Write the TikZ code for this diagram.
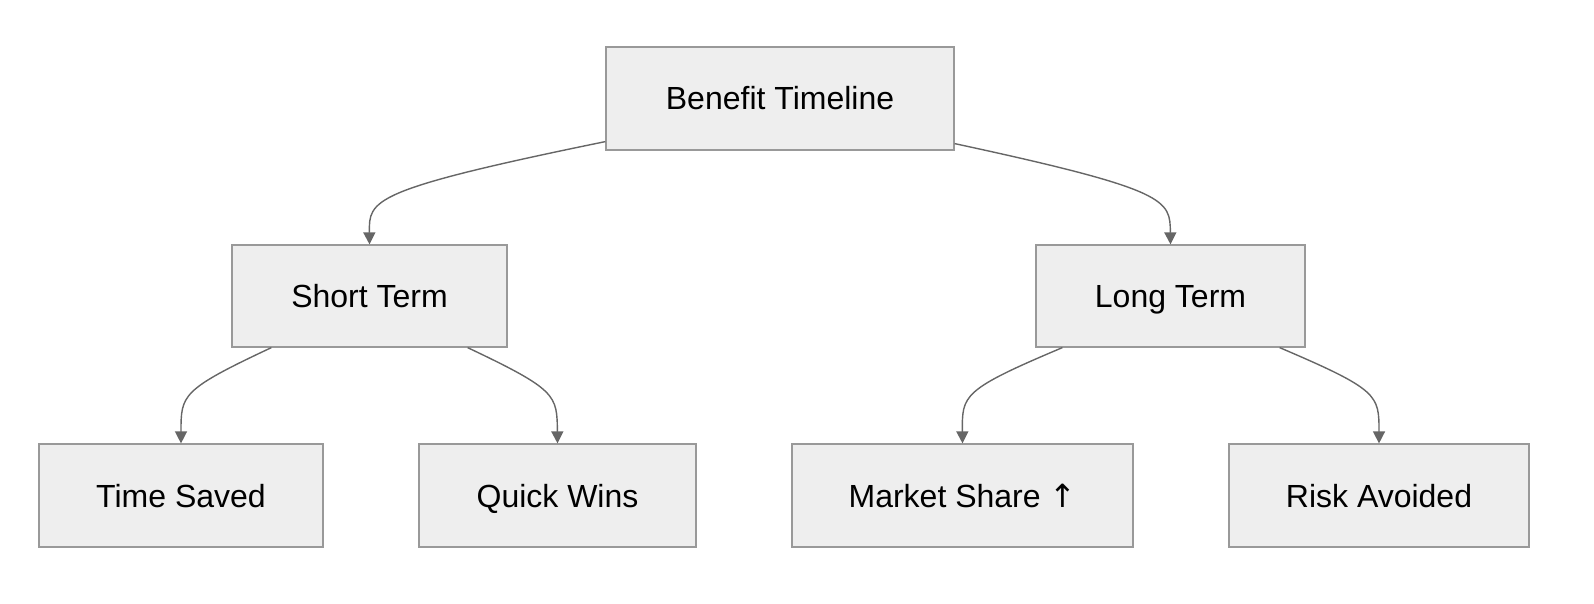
\documentclass[tikz,border=0pt]{standalone}
\usepackage{fontspec}
\setmainfont{Liberation Sans}
\newfontfamily\symfont{DejaVu Sans}
\usetikzlibrary{arrows.meta,calc}
\definecolor{boxfill}{HTML}{EEEEEE}
\definecolor{boxline}{HTML}{999999}
\definecolor{edgec}{HTML}{666666}
\begin{document}
\begin{tikzpicture}[x=0.5pt,y=-0.5pt,
  box/.style={draw=boxline,fill=boxfill,line width=0.6pt,inner sep=0pt,text height=11.5pt,text depth=0pt,font=\fontsize{16}{18}\selectfont},
  edge/.style={draw=edgec,line width=0.7pt,-{Triangle[length=6pt,width=6pt]}}]
\useasboundingbox (0,0) rectangle (1594,604);
\node[box,minimum width=174pt,minimum height=51.5pt] (b) at (780,98.5) {Benefit Timeline};
\node[box,minimum width=137.5pt,minimum height=51pt] (s) at (369.5,296) {Short Term};
\node[box,minimum width=134.5pt,minimum height=51pt] (l) at (1170.5,296) {Long Term};
\node[box,minimum width=142pt,minimum height=51.5pt] (t) at (181,495.5) {Time Saved};
\node[box,minimum width=138.5pt,minimum height=51.5pt] (q) at (557.5,495.5) {Quick Wins};
\node[box,minimum width=170.5pt,minimum height=51.5pt] (m) at (962.5,495.5) {Market Share {\symfont ↑}};
\node[box,minimum width=150pt,minimum height=51.5pt] (r) at (1379,495.5) {Risk Avoided};
\draw[edge] ([yshift=4.5pt]b.south west) .. controls (369,190) and (369,200) .. (s.north);
\draw[edge] ([yshift=3.5pt]b.south east) .. controls (1170,190) and (1170,200) .. (l.north);
\draw[edge] ([xshift=20pt]s.south west) .. controls (181,390) and (181,395) .. (t.north);
\draw[edge] ([xshift=-20pt]s.south east) .. controls (557,390) and (557,395) .. (q.north);
\draw[edge] ([xshift=13.5pt]l.south west) .. controls (962,390) and (962,395) .. (m.north);
\draw[edge] ([xshift=-13pt]l.south east) .. controls (1379,390) and (1379,395) .. (r.north);
\end{tikzpicture}
\end{document}
